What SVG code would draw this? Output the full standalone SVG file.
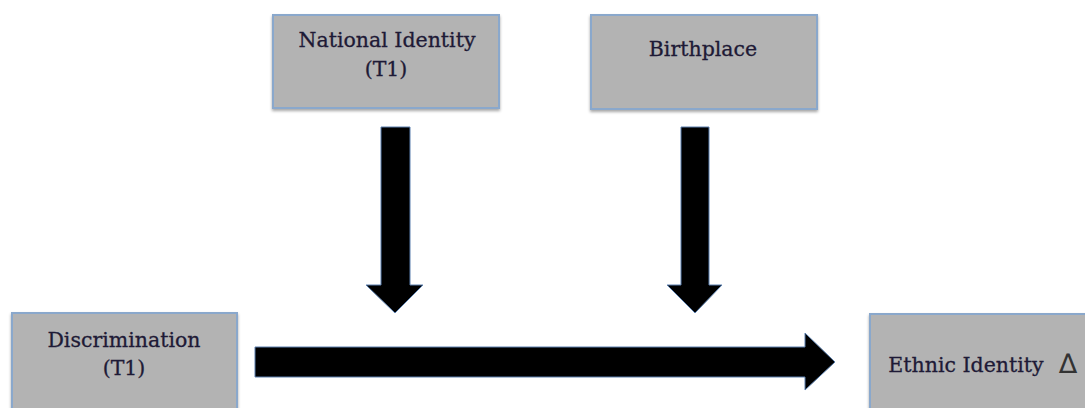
<svg xmlns="http://www.w3.org/2000/svg" width="1085" height="408" viewBox="0 0 1085 408">
<defs>
<filter id="sh" x="-10%" y="-10%" width="120%" height="130%"><feDropShadow dx="0" dy="2" stdDeviation="1.5" flood-color="#000" flood-opacity="0.35"/></filter>
<style>
.box{fill:#b3b3b3;stroke:#8aa8cc;stroke-width:2;filter:url(#sh)}
.t{font-family:"DejaVu Serif","Liberation Serif",serif;font-size:20.5px;fill:#1e1a36;text-anchor:middle;stroke:#1e1a36;stroke-width:0.3}
.d{font-family:"DejaVu Sans","Liberation Sans",sans-serif;font-size:27px;fill:#333;text-anchor:middle}
.arr{fill:#000;stroke:#5a7fae;stroke-width:1}
</style>
</defs>
<rect width="1085" height="408" fill="#fff"/>
<g id="connectors">
<polygon class="arr" points="381,127 410,127 410,285 423,285 395,313 366,285 381,285"/>
<polygon class="arr" points="681,127 709,127 709,285 722,285 695,313 667,285 681,285"/>
<polygon class="arr" points="255,347 805,347 805,333 835,362 805,390 805,377 255,377"/>
</g>
<g id="national"><rect class="box" x="273" y="15" width="226" height="93"/><text class="t" x="387" y="47">National Identity</text><text class="t" x="386" y="76">(T1)</text></g>
<g id="birthplace"><rect class="box" x="591" y="15" width="226" height="94"/><text class="t" x="703" y="56">Birthplace</text></g>
<g id="discrimination"><rect class="box" x="12" y="313" width="225" height="98"/><text class="t" x="124" y="347">Discrimination</text><text class="t" x="124" y="375">(T1)</text></g>
<g id="ethnic"><rect class="box" x="870" y="314" width="230" height="97"/><text class="t" x="966" y="372">Ethnic Identity</text><text class="d" x="1068" y="373">∆</text></g>
</svg>
